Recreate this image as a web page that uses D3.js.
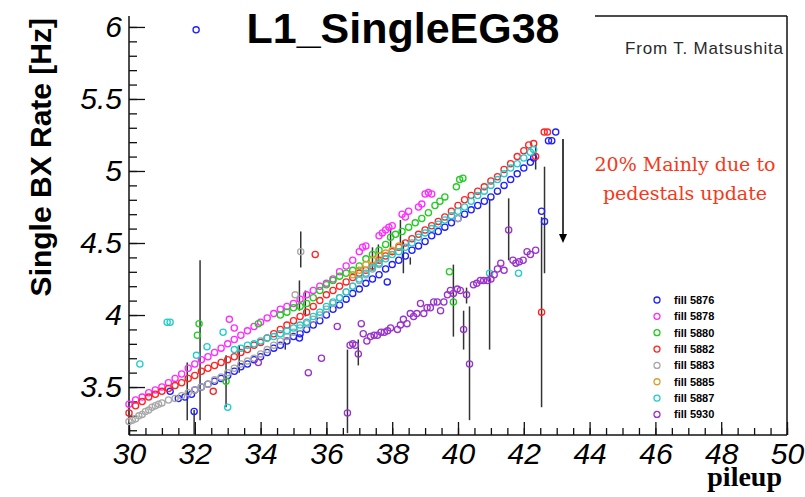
<!DOCTYPE html>
<html>
<head>
<meta charset="utf-8">
<script src="https://cdn.jsdelivr.net/npm/d3@7/dist/d3.min.js"></script>
<style>
body { margin: 0; background: #ffffff; }
svg { display: block; }
</style>
</head>
<body>
<div id="chart"></div>
<script>
// fills shown in the legend, drawn in this order
var fills = ["fill 5876", "fill 5878", "fill 5880", "fill 5882", "fill 5883", "fill 5885", "fill 5887", "fill 5930"];
var colors = ["#1f1fff", "#ff2bff", "#22cc22", "#ff2424", "#a8a8a8", "#d9a030", "#22cccc", "#9933cc"];

// [pileup, rate]
var fill5876 = [[31.25,3.47],[31.5,3.42],[31.7,3.43],[31.9,3.45],[32.0,3.48],[32.2,3.50],[32.4,3.52],[32.6,3.54],[32.8,3.56],[33.0,3.58],
  [33.2,3.61],[33.4,3.64],[33.6,3.66],[33.8,3.69],[34.0,3.71],[34.2,3.74],[34.4,3.77],[34.6,3.79],[34.8,3.82],[35.0,3.85],
  [35.2,3.87],[35.4,3.90],[35.6,3.93],[35.8,3.96],[36.0,4.00],[36.2,4.04],[36.4,4.07],[36.6,4.11],[36.8,4.15],[37.0,4.18],
  [37.2,4.22],[37.4,4.25],[37.6,4.28],[37.8,4.32],[38.0,4.35],[38.2,4.38],[38.4,4.41],[38.6,4.45],[38.8,4.48],[39.0,4.51],
  [39.2,4.55],[39.4,4.58],[39.6,4.61],[39.8,4.64],[40.0,4.67],[40.2,4.70],[40.4,4.73],[40.6,4.76],[40.8,4.79],[41.0,4.82],
  [41.2,4.86],[41.4,4.90],[41.6,4.94],[41.8,4.98],[42.0,5.02],[42.2,5.06],[42.3,5.09],
  [31.98,3.33],[35.18,3.84],[37.85,4.23],[42.54,4.72],[42.63,4.65],[42.75,5.21],[42.85,5.21],[42.97,5.27],[32.04,5.98]];

var fill5878 = [[30.0,3.38],[30.2,3.41],[30.4,3.43],[30.6,3.46],[30.8,3.48],[31.0,3.50],[31.2,3.53],[31.4,3.56],[31.6,3.59],[31.8,3.63],
  [32.0,3.66],[32.2,3.69],[32.4,3.71],[32.6,3.74],[32.8,3.77],[33.0,3.80],[33.2,3.83],[33.4,3.86],[33.6,3.89],[33.8,3.92],
  [34.0,3.95],[34.2,3.98],[34.4,4.01],[34.6,4.04],[34.8,4.06],[35.0,4.08],[35.2,4.11],[35.4,4.14],[35.6,4.17],[35.8,4.20],
  [36.0,4.22],[36.2,4.25],[36.4,4.30],[36.6,4.34],[36.8,4.38],[37.0,4.44],[37.1,4.47],[37.2,4.48],[37.6,4.55],[37.7,4.57],
  [37.8,4.59],[37.9,4.61],[38.0,4.62],[38.3,4.70],[38.4,4.68],[38.5,4.72],[38.8,4.75],[38.9,4.77],[39.0,4.84],[39.1,4.85],[39.2,4.84],
  [33.05,3.97],[33.2,3.91]];

var fill5880 = [[34.6,4.00],[34.8,4.02],[35.0,4.05],[35.2,4.06],[35.4,4.08],[35.6,4.12],[35.8,4.17],[36.0,4.21],[36.2,4.24],[36.4,4.27],
  [36.6,4.29],[36.8,4.31],[37.0,4.34],[37.2,4.39],[37.4,4.42],[37.6,4.45],[37.8,4.49],[37.95,4.54],[38.1,4.56],[38.3,4.58],
  [38.5,4.61],[38.7,4.64],[38.9,4.67],[39.1,4.71],[39.3,4.76],[39.45,4.79],[39.6,4.82],[39.95,4.89],[40.05,4.94],[40.15,4.95],
  [32.13,3.94],[32.08,3.86],[32.95,3.54],[33.93,3.94],[39.74,4.30],[39.86,4.09]];

var fill5882 = [[30.0,3.32],[30.2,3.37],[30.4,3.40],[30.6,3.43],[30.8,3.45],[31.0,3.47],[31.2,3.49],[31.4,3.51],[31.6,3.53],[31.8,3.56],
  [32.0,3.58],[32.2,3.61],[32.4,3.63],[32.6,3.65],[32.8,3.67],[33.0,3.69],[33.2,3.71],[33.4,3.74],[33.6,3.76],[33.8,3.79],
  [34.0,3.81],[34.2,3.84],[34.4,3.87],[34.6,3.90],[34.8,3.93],[35.0,3.96],[35.2,3.99],[35.4,4.02],[35.6,4.06],[35.8,4.10],
  [36.0,4.14],[36.2,4.17],[36.4,4.20],[36.6,4.23],[36.8,4.26],[37.0,4.29],[37.2,4.31],[37.4,4.34],[37.6,4.38],[37.8,4.41],
  [38.0,4.44],[38.2,4.47],[38.4,4.50],[38.6,4.53],[38.8,4.56],[39.0,4.59],[39.2,4.62],[39.4,4.65],[39.6,4.68],[39.8,4.72],
  [40.0,4.76],[40.2,4.80],[40.4,4.83],[40.6,4.86],[40.8,4.89],[41.0,4.93],[41.2,4.96],[41.4,5.01],[41.6,5.05],[41.8,5.10],
  [42.0,5.14],[42.15,5.18],[42.3,5.19],
  [32.56,3.47],[35.66,4.42],[42.36,5.10],[42.54,4.02],[42.62,5.27],[42.72,5.27]];

var fill5883 = [[30.0,3.26],[30.1,3.27],[30.2,3.28],[30.3,3.30],[30.4,3.31],[30.5,3.33],[30.6,3.34],[30.7,3.36],[30.8,3.37],[30.9,3.38],
  [31.0,3.39],[31.2,3.41],[31.4,3.42],[31.6,3.44],[31.8,3.46],
  [32.0,3.48],[32.2,3.50],[32.4,3.52],[32.6,3.55],[32.8,3.57],[33.0,3.60],[33.2,3.63],[33.4,3.66],[33.6,3.68],[33.8,3.70],
  [34.0,3.73],[34.2,3.76],[34.4,3.79],[34.6,3.82],[34.8,3.85],[35.0,3.88],[35.2,3.91],[35.4,3.94],[35.6,3.97],[35.8,4.00],
  [36.0,4.04],[36.2,4.08],[36.4,4.12],[36.6,4.16],[36.8,4.20],[37.0,4.24],[37.2,4.28],[37.4,4.32],[37.6,4.35],
  [35.05,4.14],[35.22,4.44],[40.0,4.67]];

var fill5885 = [[36.8,4.28],[37.0,4.31],[37.2,4.35],[37.4,4.38],[37.6,4.41],[37.8,4.43],[38.0,4.45],[38.2,4.48]];

var fill5887 = [[33.2,3.76],[33.4,3.77],[33.6,3.79],[33.8,3.80],[34.0,3.82],[34.2,3.84],[34.4,3.85],[34.6,3.87],[34.8,3.89],[35.0,3.91],
  [35.2,3.93],[35.4,3.95],[35.6,3.99],[35.8,4.02],[36.0,4.06],[36.2,4.09],[36.4,4.12],[36.6,4.16],[36.8,4.20],[37.0,4.25],
  [37.2,4.29],[37.4,4.33],[37.6,4.36],[37.8,4.39],[38.0,4.42],[38.2,4.44],[38.4,4.47],[38.6,4.50],[38.8,4.54],[39.0,4.57],
  [39.2,4.60],[39.4,4.63],[39.6,4.66],[39.8,4.69],[40.0,4.72],[40.2,4.75],[40.4,4.79],[40.6,4.83],[40.8,4.86],[41.0,4.90],
  [41.2,4.94],[41.4,4.98],[41.6,5.02],[41.8,5.05],[42.0,5.09],[42.2,5.13],[42.3,5.15],
  [30.33,3.66],[31.16,3.95],[31.25,3.95],[32.05,3.72],[32.37,3.78],[32.86,3.88],[33.0,3.36],[40.96,4.29],[41.84,4.29]];

var fill5930 = [[33.93,3.67],[35.45,3.60],[35.85,3.70],[36.33,3.92],[36.64,3.32],[36.72,3.79],[36.8,3.80],[36.88,3.79],[36.97,3.73],[37.06,3.94],
  [37.12,3.87],[37.23,3.82],[37.34,3.85],[37.45,3.86],[37.55,3.86],[37.66,3.88],[37.76,3.88],[37.86,3.89],[37.95,3.91],[38.16,3.90],
  [38.25,3.93],[38.34,3.97],[38.45,3.94],[38.55,4.01],[38.65,3.99],[38.75,4.01],[38.86,4.08],[38.96,4.01],[39.06,4.05],[39.16,4.05],
  [39.26,4.09],[39.37,4.09],[39.47,4.03],[39.57,4.09],[39.68,4.14],[39.77,4.17],[39.86,4.15],[39.98,4.18],[40.07,4.17],[40.17,3.90],
  [40.26,4.14],[40.35,3.66],[40.47,4.21],[40.57,4.22],[40.68,4.24],[40.78,4.24],[40.9,4.24],[41.0,4.25],[41.1,4.28],[41.2,4.32],
  [41.3,4.36],[41.4,4.31],[41.54,4.59],[41.67,4.38],[41.76,4.36],[41.86,4.37],[41.98,4.38],[42.1,4.44],[42.2,4.42],[42.36,4.45]];

var series = [fill5876, fill5878, fill5880, fill5882, fill5883, fill5885, fill5887, fill5930];

// [pileup, low, high]
var errorBars = [[31.77,3.27,3.67],[31.98,3.17,3.34],[32.16,3.27,4.38],[32.95,3.36,3.72],[33.35,3.60,3.79],[34.75,3.76,3.81],
  [35.18,4.03,4.24],[35.22,4.33,4.58],[35.36,3.99,4.17],[36.64,3.18,3.76],[36.97,3.65,3.83],[37.40,4.31,4.47],[37.58,4.36,4.49],
  [37.95,4.47,4.60],[38.25,4.49,4.66],[38.34,4.29,4.51],[38.55,4.35,4.40],[39.86,3.85,4.35],[40.17,3.76,4.03],[40.26,4.08,4.19],
  [40.35,3.27,4.06],[40.96,3.76,4.80],[41.54,4.38,4.81],[42.36,5.01,5.18],[42.54,3.36,4.68],[42.63,4.29,5.03]];

var xTicks = [30, 32, 34, 36, 38, 40, 42, 44, 46, 48, 50];
var yTicks = [3.5, 4, 4.5, 5, 5.5, 6];
var noteLines = ["20% Mainly due to", "pedestals update"];

var width = 805;
var height = 497;

var svg = d3.select("#chart")
    .append("svg")
    .attr("width", width)
    .attr("height", height);

var x = d3.scaleLinear().domain([30, 50]).range([129, 787]);
var y = d3.scaleLinear().domain([3.167, 6.076]).range([435, 16]);

// minor ticks
svg.append("g")
    .attr("transform", "translate(129,0)")
    .call(d3.axisLeft(y).tickValues(d3.range(32, 61).map(d => d / 10)).tickSize(-8).tickSizeOuter(0).tickFormat(""));
svg.append("g")
    .attr("transform", "translate(0,435)")
    .call(d3.axisBottom(x).tickValues(d3.range(60, 101).map(d => d / 2)).tickSize(-7).tickSizeOuter(0).tickFormat(""));

// major ticks + labels
var yAxis = svg.append("g")
    .attr("transform", "translate(129,0)")
    .call(d3.axisLeft(y).tickValues(yTicks).tickSize(-16).tickSizeOuter(0).tickPadding(7).tickFormat(d3.format("")));
var xAxis = svg.append("g")
    .attr("transform", "translate(0,435)")
    .call(d3.axisBottom(x).tickValues(xTicks).tickSize(-13).tickSizeOuter(0).tickPadding(8));

svg.selectAll(".domain").remove();
svg.selectAll(".tick line").attr("stroke", "#111").attr("stroke-width", 1.3);
svg.selectAll(".tick text")
    .attr("fill", "#000")
    .style("font-family", "'Liberation Sans', Arial, sans-serif")
    .style("font-style", "italic")
    .style("font-size", "30px");

// frame
var frame = svg.append("g").attr("stroke", "#111").attr("stroke-width", 1.5).attr("fill", "none");
frame.append("line").attr("x1", 129).attr("y1", 16).attr("x2", 129).attr("y2", 435);
frame.append("line").attr("x1", 129).attr("y1", 435).attr("x2", 787).attr("y2", 435);
frame.append("line").attr("x1", 787).attr("y1", 16).attr("x2", 787).attr("y2", 435);
frame.append("line").attr("x1", 595).attr("y1", 16).attr("x2", 787).attr("y2", 16);

// error bars
svg.append("g")
    .selectAll("line")
    .data(errorBars)
    .enter().append("line")
    .attr("x1", d => x(d[0]))
    .attr("x2", d => x(d[0]))
    .attr("y1", d => y(d[1]))
    .attr("y2", d => y(d[2]))
    .attr("stroke", "#333")
    .attr("stroke-width", 1.5);

// markers
series.forEach(function(s, i) {
    svg.append("g")
        .selectAll("circle")
        .data(s)
        .enter().append("circle")
        .attr("cx", d => x(d[0]))
        .attr("cy", d => y(d[1]))
        .attr("r", 3.1)
        .attr("fill", "none")
        .attr("stroke", colors[i])
        .attr("stroke-width", 1.3);
});

// title
svg.append("text")
    .attr("x", 403)
    .attr("y", 43)
    .attr("text-anchor", "middle")
    .style("font-family", "'Liberation Sans', Arial, sans-serif")
    .style("font-weight", "bold")
    .style("font-size", "43px")
    .text("L1_SingleEG38");

svg.append("text")
    .attr("x", 783)
    .attr("y", 54)
    .attr("text-anchor", "end")
    .attr("fill", "#2a2a2a")
    .attr("textLength", 158)
    .style("font-family", "'Liberation Sans', Arial, sans-serif")
    .style("font-size", "17px")
    .text("From T. Matsushita");

// axis titles
svg.append("text")
    .attr("transform", "translate(51,18) rotate(-90)")
    .attr("text-anchor", "end")
    .style("font-family", "'Liberation Sans', Arial, sans-serif")
    .style("font-weight", "bold")
    .style("font-size", "30px")
    .text("Single BX Rate [Hz]");

svg.append("text")
    .attr("x", 782)
    .attr("y", 486)
    .attr("text-anchor", "end")
    .style("font-family", "'Liberation Serif', 'Times New Roman', serif")
    .style("font-weight", "bold")
    .style("font-size", "28px")
    .text("pileup");

// note + arrow
svg.append("g")
    .selectAll("text")
    .data(noteLines)
    .enter().append("text")
    .attr("x", 685)
    .attr("y", (d, i) => 171 + i * 29)
    .attr("text-anchor", "middle")
    .attr("fill", "#f5391a")
    .style("font-family", "'DejaVu Serif', serif")
    .style("font-size", "19px")
    .text(d => d);

svg.append("line")
    .attr("x1", 563).attr("y1", 139)
    .attr("x2", 563).attr("y2", 236)
    .attr("stroke", "#000")
    .attr("stroke-width", 1.5);
svg.append("path")
    .attr("d", "M559,234 L567,234 L563,243 Z")
    .attr("fill", "#000");

// legend
var legend = svg.append("g")
    .selectAll("g")
    .data(fills)
    .enter().append("g")
    .attr("transform", (d, i) => "translate(657," + (300 + i * 16.35) + ")");

legend.append("circle")
    .attr("r", 3)
    .attr("fill", "none")
    .attr("stroke", (d, i) => colors[i])
    .attr("stroke-width", 1.3);

legend.append("text")
    .attr("x", 17)
    .attr("y", 4)
    .style("font-family", "'Liberation Sans', Arial, sans-serif")
    .style("font-weight", "bold")
    .style("font-size", "11px")
    .text(d => d);
</script>
</body>
</html>
